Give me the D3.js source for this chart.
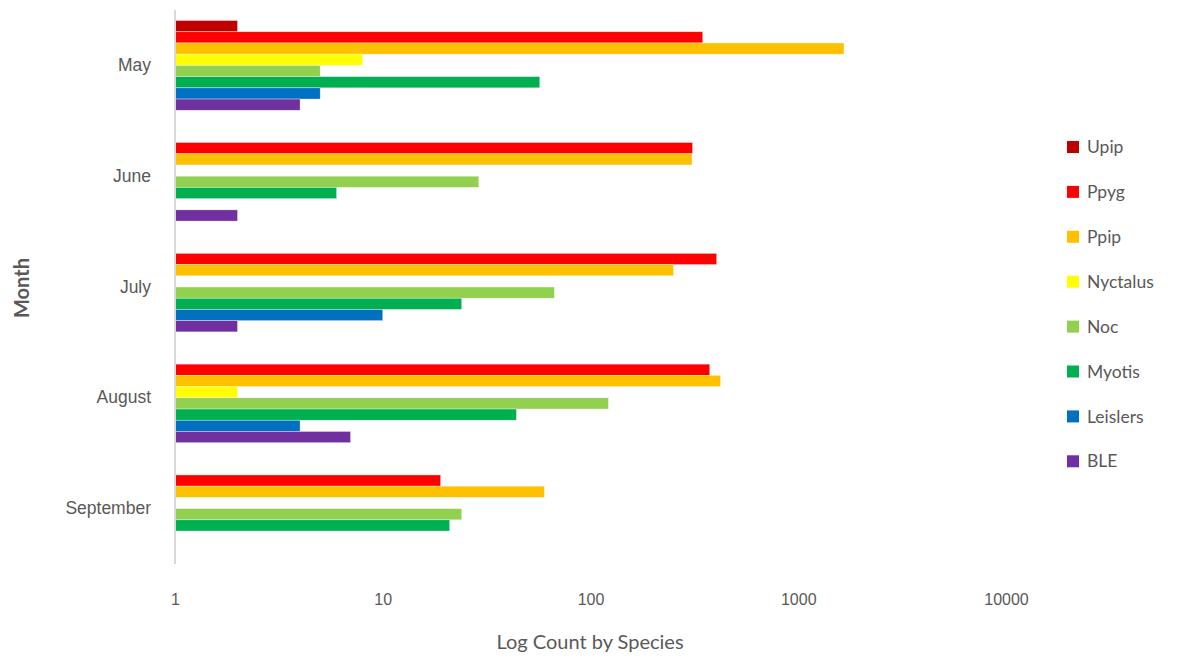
<!DOCTYPE html>
<html>
<head>
<meta charset="utf-8">
<script src="https://cdn.jsdelivr.net/npm/d3@7"></script>
<style>
  body { margin: 0; background: #fff; }
  svg { font-family: Lato, "Open Sans", sans-serif; }
</style>
</head>
<body>
<svg width="1184" height="659"></svg>
<script>
// data (null = no bar)
var months = ["May", "June", "July", "August", "September"];
var species = ["Upip", "Ppyg", "Ppip", "Nyctalus", "Noc", "Myotis", "Leislers", "BLE"];
var speciesColors = ["#C00000", "#FF0000", "#FFC000", "#FFFF00", "#92D050", "#00B050", "#0070C0", "#7030A0"];
var xTicks = [1, 10, 100, 1000, 10000];

var upip     = [2, null, null, null, null];
var ppyg     = [347, 310, 405, 375, 19];
var ppip     = [1660, 308, 251, 423, 60];
var nyctalus = [8, null, null, 2, null];
var noc      = [5, 29, 67, 122, 24];
var myotis   = [57, 6, 24, 44, 21];
var leislers = [5, null, 10, 4, null];
var ble      = [4, 2, 2, 7, null];

var series = [upip, ppyg, ppip, nyctalus, noc, myotis, leislers, ble];

var svg = d3.select("svg");

var x = d3.scaleLog()
    .domain([1, 10000])
    .range([175, 1006]);

var y = d3.scaleBand()
    .domain(months)
    .range([10, 564])
    .paddingInner(0.19)
    .paddingOuter(0.095);

var yInner = d3.scaleBand()
    .domain(species)
    .range([0, y.bandwidth()]);

var color = d3.scaleOrdinal()
    .domain(species)
    .range(speciesColors);

// bars
var rows = [];
months.forEach(function(m, mi) {
    species.forEach(function(s, si) {
        var v = series[si][mi];
        if (v != null) rows.push({ month: m, species: s, value: v });
    });
});

svg.append("g")
  .selectAll("rect")
  .data(rows)
  .enter()
  .append("rect")
    .attr("x", x(1))
    .attr("y", function(d) { return y(d.month) + yInner(d.species); })
    .attr("width", function(d) { return x(d.value) - x(1); })
    .attr("height", yInner.bandwidth())
    .attr("fill", function(d) { return color(d.species); })
    .attr("stroke", "#fff")
    .attr("stroke-opacity", 0.6)
    .attr("stroke-width", 0.6);

// vertical axis line
svg.append("line")
    .attr("x1", x(1)).attr("x2", x(1))
    .attr("y1", 10).attr("y2", 564)
    .attr("stroke", "#d9d9d9")
    .attr("stroke-width", 2);

// x axis (labels only)
var xAxis = svg.append("g")
    .attr("transform", "translate(0,591)")
    .call(d3.axisBottom(x).tickValues(xTicks).tickFormat(d3.format("d")).tickSize(0));
xAxis.select(".domain").remove();
xAxis.selectAll("text")
    .attr("fill", "#595959")
    .style("font-size", "16px");

// y axis (month labels)
var yAxis = svg.append("g")
    .attr("transform", "translate(" + (x(1) - 21) + ",0)")
    .call(d3.axisLeft(y).tickSize(0));
yAxis.select(".domain").remove();
yAxis.selectAll("text")
    .attr("fill", "#595959")
    .style("font-size", "17.5px");

// axis titles
svg.append("text")
    .attr("x", 590)
    .attr("y", 649)
    .attr("text-anchor", "middle")
    .attr("fill", "#595959")
    .style("font-size", "20px")
    .text("Log Count by Species");

svg.append("text")
    .attr("transform", "translate(29,288) rotate(-90)")
    .attr("text-anchor", "middle")
    .attr("fill", "#595959")
    .style("font-size", "20px")
    .style("font-weight", "bold")
    .text("Month");

// legend
var legend = svg.append("g")
  .selectAll("g")
  .data(species)
  .enter()
  .append("g")
    .attr("transform", function(d, i) { return "translate(1067," + (147 + i * 44.9) + ")"; });

legend.append("rect")
    .attr("x", 0)
    .attr("y", -6)
    .attr("width", 12)
    .attr("height", 12)
    .attr("fill", function(d) { return color(d); });

legend.append("text")
    .attr("x", 20)
    .attr("y", 0)
    .attr("dy", "0.35em")
    .attr("fill", "#595959")
    .style("font-size", "17.5px")
    .text(function(d) { return d; });
</script>
</body>
</html>
